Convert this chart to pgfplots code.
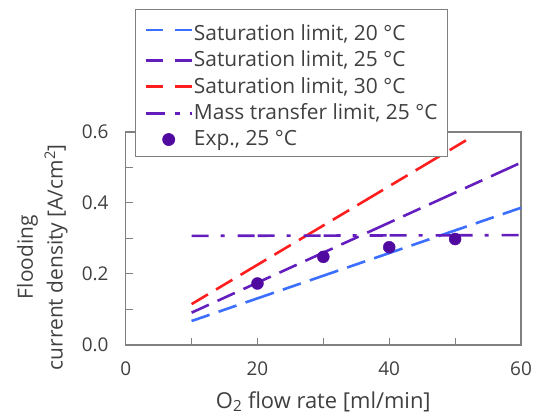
\documentclass[border=0pt]{standalone}
\usepackage{pgfplots}
\pgfplotsset{compat=1.18}
\usepackage{fontspec}
\setmainfont{Open Sans}
\definecolor{txt}{RGB}{64,64,64}
\definecolor{frm}{RGB}{128,128,128}
\definecolor{cblue}{RGB}{60,110,255}
\definecolor{cpurp}{RGB}{100,30,190}
\definecolor{cred}{RGB}{255,30,30}
\definecolor{cmark}{RGB}{80,10,160}
\begin{document}
\fontsize{21}{25}\selectfont
\begin{tikzpicture}
\path[use as bounding box] (-125.7bp,-74bp) rectangle (411.3bp,345bp);
\begin{axis}[
  at={(0,0)}, anchor=south west,
  scale only axis, width=395.3bp, height=213.3bp,
  xmin=0, xmax=60, ymin=0, ymax=0.6,
  xtick={0,10,20,30,40,50,60}, xticklabels={0,,20,,40,,60},
  ytick={0,0.1,0.2,0.3,0.4,0.5,0.6}, yticklabels={0.0,,0.2,,0.4,,0.6},
  tick pos=left, tick align=inside, major tick length=7bp,
  every tick/.style={frm, line width=1bp},
  axis line style={frm, line width=1.6bp},
  tick label style={text=txt, font=\fontsize{19}{23}\selectfont},
  /pgf/number format/assume math mode=true,
  xticklabel style={yshift=-10bp},
  yticklabel style={xshift=-10bp},
  xlabel={O\textsubscript{2} flow rate [ml/min]},
  xlabel style={text=txt, yshift=-1bp, font=\fontsize{22}{26}\selectfont},
  ylabel={Flooding\\[5bp]current density [A/cm\textsuperscript{2}]},
  ylabel style={at={(ticklabel cs:0.44)}, text=txt, align=center, xshift=-6bp},
  clip=false,
  legend style={at={(rel axis cs:0.0235,0.881)}, anchor=south west,
    draw=frm, line width=0.8bp, fill=white, text=txt,
    inner xsep=9bp, inner ysep=7bp, row sep=5.5bp,
    nodes={inner xsep=1bp, inner ysep=1bp, text=txt}},
  legend cell align=left,
  legend image code/.code={\draw[mark repeat=2,mark phase=2] plot coordinates {(0bp,0bp) (23bp,0bp) (46bp,0bp)};},
  satleg/.style={legend image code/.code={\draw[dash pattern=on 17bp off 12bp, dash phase=0bp] (0bp,0bp) -- (46bp,0bp);}},
  sat/.style={line width=2.6bp, dash pattern=on 30bp off 9.5bp on 19bp off 9.5bp, dash phase=11bp, satleg},
]
\addplot[cblue, sat] coordinates {(10,0.0675) (60,0.386)};
\addlegendentry{\rule{0pt}{23bp}Saturation limit, 20 °C}
\addplot[cpurp, sat] coordinates {(10,0.091) (60,0.513)};
\addlegendentry{Saturation limit, 25 °C}
\addplot[cred, sat] coordinates {(10,0.115) (52.5,0.585)};
\addlegendentry{Saturation limit, 30 °C}
\addplot[cpurp, line width=2.6bp, dash pattern=on 17bp off 3bp on 17bp off 12bp on 4bp off 13bp, dash phase=20bp,
  legend image code/.code={\draw[dash pattern=on 19bp off 10bp on 5bp off 10bp on 2bp off 10bp, dash phase=0bp] (0bp,0bp) -- (46bp,0bp);}]
  coordinates {(10,0.307) (60,0.309)};
\addlegendentry{Mass transfer limit, 25 °C}
\addplot[only marks, mark=*, mark size=6bp, cmark] coordinates {(20,0.173) (30,0.248) (40,0.275) (50,0.298)};
\addlegendentry{Exp., 25 °C}
\end{axis}
\end{tikzpicture}
\end{document}
